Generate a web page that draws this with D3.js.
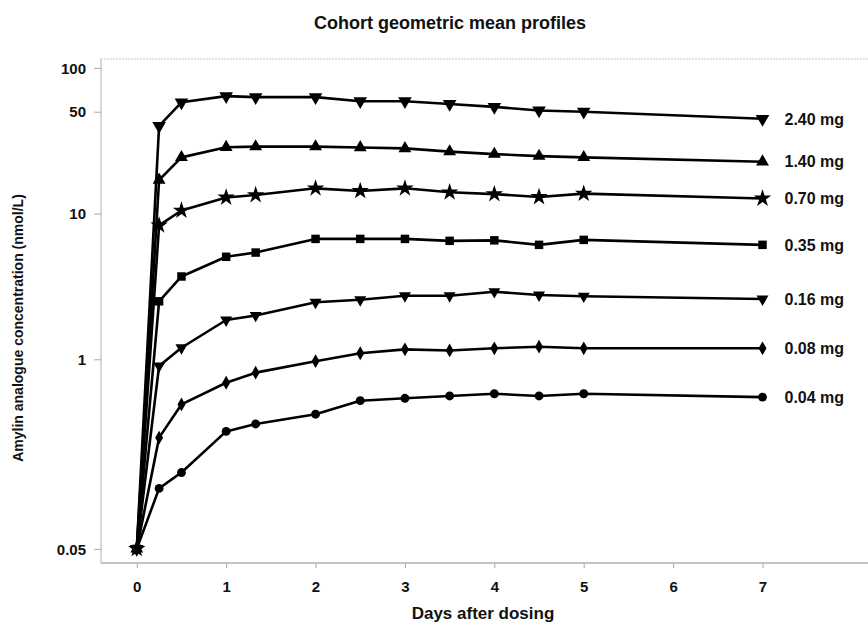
<!DOCTYPE html>
<html>
<head>
<meta charset="utf-8">
<script src="https://cdn.jsdelivr.net/npm/d3@7/dist/d3.min.js"></script>
<style>
  html, body { margin: 0; padding: 0; background: #fff; }
  svg { display: block; font-family: "Liberation Sans", Arial, Helvetica, sans-serif; }
</style>
</head>
<body>
<svg id="chart" width="868" height="625"></svg>
<script>
// ---- data ----
const days = [0, 0.25, 0.5, 1, 1.33, 2, 2.5, 3, 3.5, 4, 4.5, 5, 7];
const doseLabels = ["2.40 mg", "1.40 mg", "0.70 mg", "0.35 mg", "0.16 mg", "0.08 mg", "0.04 mg"];
const dose240 = [0.05, 40, 58, 64, 63, 63, 59, 59, 56.5, 54, 51, 50, 44.7];
const dose140 = [0.05, 17, 24.3, 28.5, 28.8, 28.8, 28.4, 28, 26.6, 25.6, 24.8, 24.3, 22.7];
const dose070 = [0.05, 8.3, 10.5, 12.9, 13.4, 14.9, 14.3, 14.9, 14, 13.6, 13, 13.7, 12.7];
const dose035 = [0.05, 2.5, 3.7, 5.05, 5.4, 6.7, 6.7, 6.7, 6.5, 6.55, 6.1, 6.6, 6.1];
const dose016 = [0.05, 0.9, 1.2, 1.86, 2.0, 2.46, 2.56, 2.73, 2.73, 2.91, 2.76, 2.71, 2.59];
const dose008 = [0.05, 0.29, 0.49, 0.69, 0.81, 0.97, 1.1, 1.17, 1.15, 1.19, 1.22, 1.19, 1.19];
const dose004 = [0.05, 0.13, 0.167, 0.32, 0.36, 0.42, 0.52, 0.54, 0.56, 0.58, 0.56, 0.58, 0.55];
const xTicks = [0, 1, 2, 3, 4, 5, 6, 7];
const yTicks = [0.05, 1, 10, 50, 100];
const yTickLabels = ["0.05", "1", "10", "50", "100"];
const markerTypes = ["triDown", "triUp", "star", "square", "triDownSmall", "diamond", "circle"];

const seriesValues = [dose240, dose140, dose070, dose035, dose016, dose008, dose004];

// ---- layout ----
const svg = d3.select("#chart");
const plotLeft = 101, plotRight = 868, plotTop = 59, plotBottom = 563;

const x = d3.scaleLinear().domain([-0.4, 8.18]).range([plotLeft, plotRight]);
const y = d3.scaleLog().domain([0.04, 115]).range([plotBottom, plotTop]);

// frame
svg.append("line").attr("x1", plotLeft).attr("x2", plotRight).attr("y1", plotTop).attr("y2", plotTop)
  .attr("stroke", "#c8c8c8").attr("stroke-width", 1).attr("stroke-dasharray", "2,1");
svg.append("line").attr("x1", plotLeft).attr("x2", plotLeft).attr("y1", plotTop).attr("y2", plotBottom)
  .attr("stroke", "#bdbdbd").attr("stroke-width", 1.2);
svg.append("line").attr("x1", plotLeft).attr("x2", plotRight).attr("y1", plotBottom).attr("y2", plotBottom)
  .attr("stroke", "#b0b0b0").attr("stroke-width", 1.4);

// axes
const xAxis = d3.axisBottom(x).tickValues(xTicks).tickSize(5).tickFormat(d3.format("d"));
const gx = svg.append("g").attr("transform", `translate(0,${plotBottom})`).call(xAxis);
gx.select(".domain").remove();
gx.selectAll(".tick line").attr("stroke", "#aaa");
gx.selectAll(".tick text").attr("dy", "0").attr("y", 29)
  .attr("font-size", 15).attr("font-weight", "bold").attr("fill", "#111")
  .attr("font-family", "'Liberation Sans', Arial, sans-serif");

const yAxis = d3.axisLeft(y).tickValues(yTicks).tickSize(7)
  .tickFormat((d, i) => yTickLabels[i]);
const gy = svg.append("g").attr("transform", `translate(${plotLeft},0)`).call(yAxis);
gy.select(".domain").remove();
gy.selectAll(".tick line").attr("stroke", "#aaa");
gy.selectAll(".tick text").attr("x", -15).attr("dy", "0.35em")
  .attr("font-size", 15).attr("font-weight", "bold").attr("fill", "#111")
  .attr("font-family", "'Liberation Sans', Arial, sans-serif");

// lines
const line = d3.line().x((d, i) => x(days[i])).y(d => y(d));
function markerPath(type) {
  switch (type) {
    case "triDown": return d3.symbol().type(d3.symbolTriangle).size(80)();
    case "triUp": return d3.symbol().type(d3.symbolTriangle).size(72)();
    case "star": return d3.symbol().type(d3.symbolStar).size(95)();
    case "square": return d3.symbol().type(d3.symbolSquare).size(72)();
    case "triDownSmall": return d3.symbol().type(d3.symbolTriangle).size(62)();
    case "diamond": return d3.symbol().type(d3.symbolDiamond).size(55)();
    case "circle": return d3.symbol().type(d3.symbolCircle).size(62)();
  }
}

seriesValues.forEach((vals, si) => {
  const g = svg.append("g");
  g.append("path").datum(vals).attr("d", line)
    .attr("fill", "none").attr("stroke", "#000").attr("stroke-width", 2.6)
    .attr("stroke-linejoin", "round");
  const type = markerTypes[si];
  const rot = (type === "triDown" || type === "triDownSmall") ? 180 : 0;
  const p = markerPath(type);
  g.selectAll("path.m").data(vals).enter().append("path").attr("class", "m")
    .attr("d", p)
    .attr("transform", (d, i) => `translate(${x(days[i])},${y(d)}) rotate(${rot})`)
    .attr("fill", "#000");
  const last = vals[vals.length - 1];
  svg.append("text").attr("x", x(days[days.length - 1]) + 22).attr("y", y(last))
    .attr("dy", "0.36em").attr("font-size", 16).attr("font-weight", "bold")
    .attr("fill", "#111").text(doseLabels[si]);
});

// titles
svg.append("text").attr("x", 450).attr("y", 29).attr("text-anchor", "middle")
  .attr("font-size", 18).attr("font-weight", "bold").attr("fill", "#111")
  .text("Cohort geometric mean profiles");
svg.append("text").attr("x", 483).attr("y", 619).attr("text-anchor", "middle")
  .attr("font-size", 17).attr("font-weight", "bold").attr("fill", "#111")
  .text("Days after dosing");
svg.append("text").attr("transform", "translate(23,328) rotate(-90)").attr("text-anchor", "middle")
  .attr("font-size", 14).attr("font-weight", "bold").attr("fill", "#111")
  .text("Amylin analogue concentration (nmol/L)");
</script>
</body>
</html>
